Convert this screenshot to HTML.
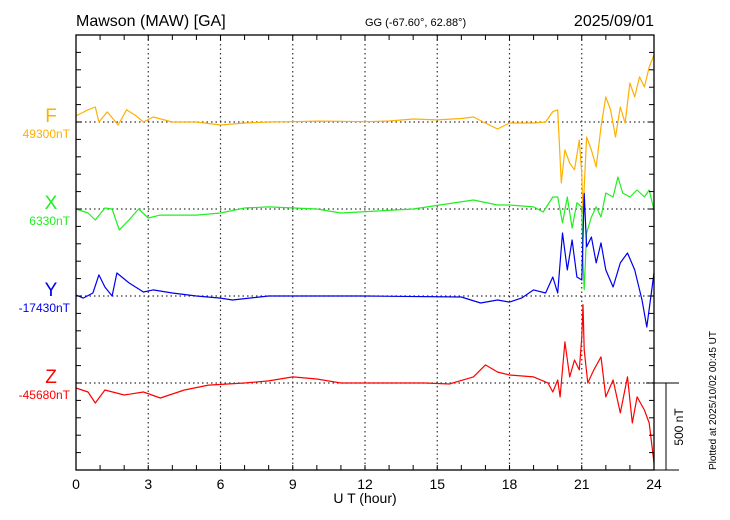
<!DOCTYPE html>
<html><head><meta charset="utf-8"><style>
body{margin:0;background:#fff;}
svg{display:block;font-family:"Liberation Sans",Arial,sans-serif;}
</style></head><body>
<svg id="chart" width="730" height="520" viewBox="0 0 730 520" xmlns="http://www.w3.org/2000/svg">
<text x="76" y="26" font-size="16">Mawson (MAW)  [GA]</text>
<text x="365" y="26" font-size="11">GG (-67.60°,  62.88°)</text>
<text x="654" y="26" font-size="16" text-anchor="end">2025/09/01</text>
<text x="365" y="503" font-size="14" text-anchor="middle">U T (hour)</text>
<text transform="translate(716,470) rotate(-90)" font-size="10">Plotted at 2025/10/02 00:45 UT</text>
<g id="grid"></g>
<g id="series"></g>
<g id="frame"></g>
</svg>
<script>
const hourTicks=[0,3,6,9,12,15,18,21,24];
const comps=["F","X","Y","Z"];
const baseLabels=["49300nT","6330nT","-17430nT","-45680nT"];
const fT=[0,0.5,0.8,0.95,1.3,1.75,2.1,2.5,2.8,3.2,4,5,6,7,8,9,10,11,12,13,14,15,16,16.5,17,17.5,18,19,19.5,19.8,20,20.15,20.3,20.5,20.7,20.9,21.0,21.05,21.2,21.4,21.6,21.8,22.0,22.2,22.4,22.6,22.8,23.0,23.2,23.4,23.6,23.8,24];
const fV=[35,70,86,0,58,-17,70,35,0,29,0,0,-17,-6,0,2,5,4,2,6,17,12,20,29,-6,-40,-6,-6,0,60,69,-350,-160,-237,-275,-104,-300,-525,-86,-161,-258,-29,144,69,-86,86,-6,224,144,259,201,316,385];
const xT=[0,0.5,0.8,1.2,1.5,1.8,2.2,2.6,3,3.5,5,6,7,8,10,11,14,16.5,17.5,18,19,19.4,19.8,20,20.2,20.4,20.6,20.8,21.0,21.05,21.1,21.2,21.4,21.6,21.8,22.0,22.3,22.5,22.7,23.0,23.3,23.6,23.8,24];
const xV=[0,-23,-63,6,0,-120,-63,0,-52,-35,-35,-23,6,12,0,-23,0,52,23,23,12,-17,69,69,-80,69,-109,35,12,-300,-465,-138,-46,12,-46,92,69,184,92,69,109,69,109,-6];
const yT=[0,0.3,0.7,0.95,1.2,1.5,1.7,2.2,2.8,3.2,4,5,6,6.5,8,12,16,16.8,17.5,18,18.5,19,19.5,19.8,20,20.2,20.4,20.6,20.8,21.0,21.1,21.2,21.4,21.6,21.8,22.0,22.3,22.6,22.9,23.2,23.5,23.7,24];
const yV=[6,-12,17,121,52,0,132,75,23,35,17,0,-12,-23,0,0,-6,-40,-23,-35,-12,35,17,109,17,362,150,322,109,92,590,282,339,190,305,150,52,190,247,150,-23,-178,132];
const zT=[0,0.5,0.8,1.2,2,2.8,3.5,4.5,5.5,7,8,9,10,11,14.5,15.5,16.5,17,17.5,18,19,19.6,19.8,20.0,20.1,20.3,20.5,20.7,20.9,21.0,21.05,21.1,21.25,21.5,21.8,22.0,22.3,22.6,22.9,23.1,23.3,23.6,23.8,24];
const zV=[-29,-52,-115,-40,-69,-52,-86,-40,-12,0,12,35,23,0,0,-6,35,104,63,46,35,0,-52,17,-80,236,35,132,75,264,450,190,0,75,150,-80,17,-172,35,-230,-80,-155,-230,-460];
const seriesT=[fT,xT,yT,zT];
const seriesV=[fV,xV,yV,zV];
const colors=["#ffb000","#22ee22","#0000ee","#ff0000"];
const X0=76,X1=654,Y0=35,Y1=470,PXNT=0.174,bases=[122,209,296,383];
const xs=h=>X0+h*(X1-X0)/24;
const ys=(i,v)=>bases[i]-v*PXNT;
const NS="http://www.w3.org/2000/svg";
function mk(tag,attrs,parent){const e=document.createElementNS(NS,tag);for(const k in attrs)e.setAttribute(k,attrs[k]);parent.appendChild(e);return e;}
const grid=document.getElementById('grid'),ser=document.getElementById('series'),frame=document.getElementById('frame');
hourTicks.forEach(h=>{if(h>0&&h<24){const l=mk('line',{x1:xs(h),x2:xs(h),y1:Y0,y2:Y1,stroke:'#333','stroke-dasharray':'1.5,3','stroke-width':1.2},grid);

}
const t=mk('text',{x:xs(h),y:489,'font-size':14,'text-anchor':'middle'},frame);t.textContent=h;

});
bases.forEach((b,i)=>{const l=mk('line',{x1:X0,x2:X1,y1:b,y2:b,stroke:'#333','stroke-dasharray':'1.5,3','stroke-width':1.2},grid);


const c=mk('text',{x:51,y:b-0,'font-size':19,'text-anchor':'middle',fill:colors[i]},frame);c.textContent=comps[i];


const v=mk('text',{x:70,y:b+16,'font-size':12,'text-anchor':'end',fill:colors[i]},frame);v.textContent=baseLabels[i];

});
seriesT.forEach((T,i)=>{const pts=T.map((h,k)=>xs(h).toFixed(1)+','+ys(i,seriesV[i][k]).toFixed(1)).join(' ');
const p=mk('polyline',{points:pts,fill:'none',stroke:colors[i],'stroke-width':1.2,'stroke-linejoin':'round'},ser);

});
const fr=mk('rect',{x:X0,y:Y0,width:X1-X0,height:Y1-Y0,fill:'none',stroke:'#000','stroke-width':1.3},frame);


for(let h=0;h<=24;h++){mk('line',{x1:xs(h),x2:xs(h),y1:Y0,y2:Y0+5,stroke:'#000'},frame);mk('line',{x1:xs(h),x2:xs(h),y1:Y1,y2:Y1-5,stroke:'#000'},frame);}
for(let k=0;k<=25;k++){const y=Y1-k*17.4;mk('line',{x1:X0,x2:X0+5,y1:y,y2:y,stroke:'#000'},frame);mk('line',{x1:X1,x2:X1-5,y1:y,y2:y,stroke:'#000'},frame);}
mk('line',{x1:X1-8,x2:679,y1:383,y2:383,stroke:'#000'},frame);
mk('line',{x1:X1,x2:679,y1:470,y2:470,stroke:'#000'},frame);
const sb=mk('line',{x1:666,x2:666,y1:383,y2:470,stroke:'#000'},frame);


const st=mk('text',{transform:'translate(683,427) rotate(-90)','font-size':12,'text-anchor':'middle'},frame);st.textContent='500 nT';


</script>
</body></html>
